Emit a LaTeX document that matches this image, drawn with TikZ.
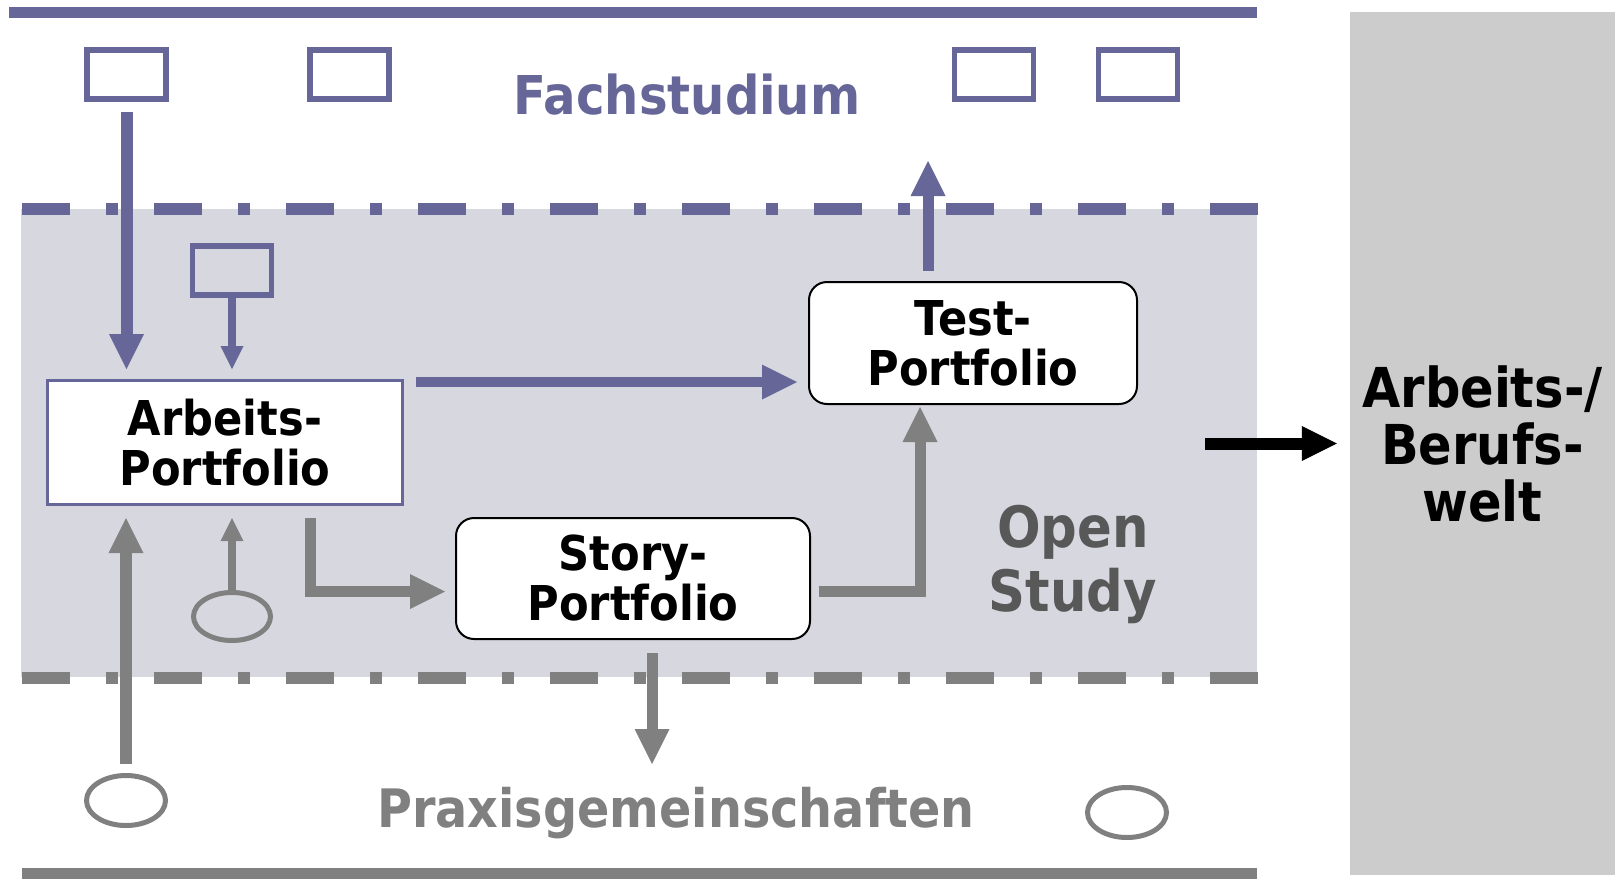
\documentclass[tikz,border=0pt]{standalone}
\usepackage{fontspec}
\setmainfont[FakeStretch=0.9]{DejaVu Sans}
\usepackage{tikz}
\usetikzlibrary{arrows.meta,shapes.geometric}

\definecolor{lila}{RGB}{102,102,153}
\definecolor{grau}{RGB}{128,128,128}
\definecolor{band}{RGB}{215,215,224}
\definecolor{weltgrau}{RGB}{204,204,204}
\definecolor{dunkel}{RGB}{88,88,88}

\begin{document}
\begin{tikzpicture}[x=1pt, y=-1pt,
  >={Triangle[length=35pt,width=35pt,line width=0pt]},
  klein/.style={-{Triangle[length=23pt,width=23pt,line width=0pt]}},
  kasten/.style={draw=lila, line width=5.5pt, minimum width=79pt, minimum height=49pt, inner sep=0pt},
  oval/.style={ellipse, draw=grau, line width=5pt, minimum width=79pt, minimum height=50pt, inner sep=0pt},
  portfolio/.style={draw, line width=2pt, fill=white, rounded corners=18pt, align=center,
    font=\fontsize{48}{50}\selectfont\bfseries},
  strichpunkt/.style={line width=12pt, dash pattern=on 48pt off 36pt on 12pt off 36pt}]
  \useasboundingbox (0,0) rectangle (1615,879);

  % Baender
  \fill[band] (21,209) rectangle (1257,677);
  \draw[lila, line width=11pt] (9,12.5) -- (1257,12.5);
  \draw[lila, strichpunkt] (22,209) -- (1258,209);
  \draw[grau, strichpunkt] (22,677.5) -- (1258,677.5);
  \draw[grau, line width=11pt] (22,873.5) -- (1257,873.5);

  % Fachstudium
  \node[kasten] (fach1) at (126.5,74.5) {};
  \node[kasten] (fach2) at (349.5,74.5) {};
  \node[kasten] (fach3) at (994,74.5) {};
  \node[kasten] (fach4) at (1138,74.5) {};
  \node[kasten] (neu) at (232,270.5) {};
  \node[lila, font=\fontsize{53.5}{60}\selectfont\bfseries, anchor=base] (fach) at (687,114) {Fachstudium};

  % Portfolios
  \node[portfolio, draw=lila, line width=3pt, sharp corners, minimum width=355pt, minimum height=124pt]
    (arbeits) at (225,442.5) {Arbeits-\\Portfolio};
  \node[portfolio, minimum width=328pt, minimum height=122pt] (test) at (973,343) {Test-\\Portfolio};
  \node[portfolio, minimum width=354pt, minimum height=121pt] (story) at (633,578.5) {Story-\\Portfolio};
  \node[dunkel, font=\fontsize{57}{64}\selectfont\bfseries, align=center] (open) at (1073,564) {Open\\Study};

  % Praxisgemeinschaften
  \node[oval] (pg1) at (126,800.5) {};
  \node[oval] (pg2) at (1127,812.5) {};
  \node[oval, minimum width=77pt, minimum height=48pt] (pgk) at (232,616.5) {};
  \node[grau, font=\fontsize{53}{60}\selectfont\bfseries, anchor=base] (praxis) at (676,827) {Praxisgemeinschaften};

  % Berufswelt
  \node[fill=weltgrau, minimum width=265pt, minimum height=863pt, inner sep=0pt, align=center,
    font=\fontsize{55}{57}\selectfont\bfseries] (welt) at (1482.5,443.5) {Arbeits-/\\Berufs-\\welt};

  \coordinate (ap) at ([shift={(12pt,-3pt)}]arbeits.north east);
  \coordinate (s1) at ([shift={(85.6pt,-12pt)}]arbeits.south);
  \coordinate (s2) at ([shift={(7.5pt,-13pt)}]story.east);
  \coordinate (oben) at (928,161);
  \coordinate (unten) at (652,764);
  \coordinate (links) at (1205,443.5);

  \draw[lila, line width=12pt, ->, shorten <=10pt, shorten >=10pt] (fach1.south) -- (fach1.south |- arbeits.north);
  \draw[lila, line width=7.5pt, klein, shorten >=10pt] (neu.south) -- (neu.south |- arbeits.north);
  \draw[lila, line width=10.6pt, ->, shorten >=11pt] (ap) -- (ap -| test.west);
  \draw[lila, line width=11pt, ->, shorten <=10pt] ([xshift=-45pt]test.north) -- (oben);

  \draw[grau, line width=11pt, ->, shorten >=10pt] (s1) |- ([yshift=-13pt]story.west);
  \draw[grau, line width=11pt, ->, shorten >=2pt] (s2) -| ([xshift=-53pt]test.south);
  \draw[grau, line width=12pt, ->, shorten <=9pt, shorten >=12pt] (pg1.north) -- (pg1.north |- arbeits.south);
  \draw[grau, line width=8pt, klein, shorten >=12pt] (pgk.north) -- (pgk.north |- arbeits.south);
  \draw[grau, line width=11pt, ->, shorten <=13pt] ([xshift=19pt]story.south) -- (unten);

  \draw[black, line width=12pt, ->, shorten >=13pt] (links) -- (welt.west);
\end{tikzpicture}
\end{document}
